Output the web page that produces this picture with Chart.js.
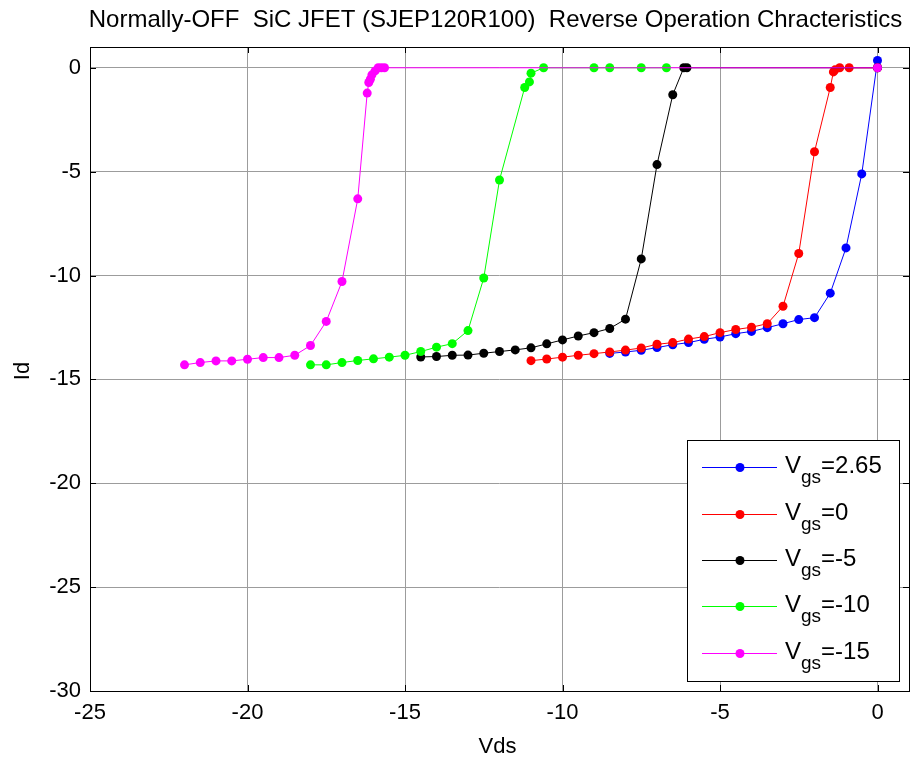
<!DOCTYPE html>
<html>
<head>
<meta charset="utf-8">
<script src="https://cdn.jsdelivr.net/npm/chart.js@4"></script>
<style>
  html, body { margin: 0; padding: 0; background: #ffffff; }
  #wrap { width: 917px; height: 762px; position: relative; }
</style>
</head>
<body>
<div id="wrap"><canvas id="c" width="917" height="762"></canvas></div>
<script>
// Reverse-conduction sweeps of the SJEP120R100, one per gate bias
const gateLabels = ["2.65", "0", "-5", "-10", "-15"];
const seriesColors = ["#0000ff", "#ff0000", "#000000", "#00ff00", "#ff00ff"];

const vdsA = [-8.5, -8, -7.5, -7, -6.5, -6, -5.5, -5, -4.5, -4, -3.5, -3, -2.5, -2, -1.5, -1, -0.5, 0];
const idA  = [-13.75, -13.68, -13.6, -13.47, -13.33, -13.23, -13.07, -12.96, -12.8, -12.69, -12.51, -12.32, -12.12, -12.03, -10.85, -8.67, -5.11, 0.35];

const vdsB = [-11, -10.5, -10, -9.5, -9, -8.5, -8, -7.5, -7, -6.5, -6, -5.5, -5, -4.5, -4, -3.5, -3, -2.5, -2, -1.5, -1.4, -1.35, -1.2, -0.9, 0];
const idB  = [-14.1, -14.02, -13.93, -13.84, -13.76, -13.68, -13.59, -13.49, -13.31, -13.23, -13.06, -12.94, -12.75, -12.6, -12.49, -12.32, -11.48, -8.94, -4.04, -0.95, -0.2, -0.1, 0, 0, 0];

const vdsC = [-14.5, -14, -13.5, -13, -12.5, -12, -11.5, -11, -10.5, -10, -9.5, -9, -8.5, -8, -7.5, -7, -6.5, -6.15, -6.05, 0];
const idC  = [-13.92, -13.9, -13.84, -13.83, -13.74, -13.66, -13.58, -13.48, -13.29, -13.1, -12.91, -12.75, -12.55, -12.1, -9.2, -4.66, -1.3, 0, 0, 0];

const vdsD = [-18, -17.5, -17, -16.5, -16, -15.5, -15, -14.5, -14, -13.5, -13, -12.5, -12, -11.2, -11.05, -11, -10.6, -9, -8.5, -7.5, -6.7];
const idD  = [-14.3, -14.3, -14.19, -14.09, -14.01, -13.93, -13.84, -13.66, -13.45, -13.28, -12.65, -10.12, -5.4, -0.95, -0.68, -0.26, 0, 0, 0, 0, 0];

const vdsE = [-22, -21.5, -21, -20.5, -20, -19.5, -19, -18.5, -18, -17.5, -17, -16.5, -16.2, -16.15, -16.1, -16.05, -15.95, -15.85, -15.75, -15.65, 0];
const idE  = [-14.3, -14.19, -14.11, -14.11, -14.03, -13.95, -13.95, -13.84, -13.37, -12.21, -10.29, -6.31, -1.22, -0.71, -0.55, -0.34, -0.15, 0, 0, 0, 0];

const xTicks = [-25, -20, -15, -10, -5, 0];
const yTicks = [-30, -25, -20, -15, -10, -5, 0];

const titleText = "Normally-OFF  SiC JFET (SJEP120R100)  Reverse Operation Chracteristics";
const xTitle = "Vds";
const yTitle = "Id";

const FONT = "'Liberation Sans', Arial, Helvetica, sans-serif";

const xs = [vdsA, vdsB, vdsC, vdsD, vdsE];
const ys = [idA, idB, idC, idD, idE];

const datasets = xs.map((xv, i) => ({
  label: "Vgs=" + gateLabels[i],
  data: xv.map((x, k) => ({ x: x, y: ys[i][k] })),
  borderColor: seriesColors[i],
  backgroundColor: seriesColors[i],
  pointBackgroundColor: seriesColors[i],
  pointBorderColor: seriesColors[i],
  borderWidth: 1,
  pointRadius: 4.5,
  pointBorderWidth: 0,
  pointHoverRadius: 4.5,
  tension: 0,
  fill: false,
  // later curves sit on top of earlier ones
  order: xs.length - 1 - i
}));

// Box, inward tick marks, title, axis titles and the legend
const decorations = {
  id: "decorations",
  afterDraw(chart) {
    const ctx = chart.ctx;
    const a = chart.chartArea;
    const sx = chart.scales.x, sy = chart.scales.y;
    ctx.save();

    // frame
    ctx.strokeStyle = "#000000";
    ctx.lineWidth = 1;
    ctx.strokeRect(Math.round(a.left) + 0.5, Math.round(a.top) + 0.5,
                   Math.round(a.right - a.left), Math.round(a.bottom - a.top));

    // inward ticks on all four sides
    const tl = 6;
    ctx.beginPath();
    xTicks.forEach(v => {
      const p = Math.round(sx.getPixelForValue(v)) + 0.5;
      ctx.moveTo(p, a.bottom); ctx.lineTo(p, a.bottom - tl);
      ctx.moveTo(p, a.top); ctx.lineTo(p, a.top + tl);
    });
    yTicks.forEach(v => {
      const p = Math.round(sy.getPixelForValue(v)) + 0.5;
      ctx.moveTo(a.left, p); ctx.lineTo(a.left + tl, p);
      ctx.moveTo(a.right, p); ctx.lineTo(a.right - tl, p);
    });
    ctx.stroke();

    // title
    ctx.fillStyle = "#000000";
    ctx.font = "24px " + FONT;
    ctx.textAlign = "center";
    ctx.textBaseline = "alphabetic";
    ctx.fillText(titleText, (a.left + a.right) / 2 - 4, 27);

    // axis titles
    ctx.font = "22px " + FONT;
    ctx.fillText(xTitle, (a.left + a.right) / 2 - 2, 753);
    ctx.save();
    ctx.translate(29, (a.top + a.bottom) / 2 + 2);
    ctx.rotate(-Math.PI / 2);
    ctx.fillText(yTitle, 0, 0);
    ctx.restore();

    // legend
    const bx = 687, by = 440, bw = 212, bh = 241;
    ctx.fillStyle = "#ffffff";
    ctx.fillRect(bx, by, bw, bh);
    ctx.strokeStyle = "#000000";
    ctx.strokeRect(bx + 0.5, by + 0.5, bw, bh);
    const rowY = [467, 514, 560, 606, 653];
    gateLabels.forEach((g, i) => {
      const y = rowY[i];
      ctx.strokeStyle = seriesColors[i];
      ctx.lineWidth = 1;
      ctx.beginPath();
      ctx.moveTo(702, y + 0.5); ctx.lineTo(777, y + 0.5);
      ctx.stroke();
      ctx.fillStyle = seriesColors[i];
      ctx.beginPath();
      ctx.arc(740, y + 0.5, 4.5, 0, Math.PI * 2);
      ctx.fill();

      ctx.fillStyle = "#000000";
      ctx.textAlign = "left";
      ctx.textBaseline = "alphabetic";
      let x = 785;
      ctx.font = "24px " + FONT;
      ctx.fillText("V", x, y + 6);
      x += ctx.measureText("V").width;
      ctx.font = "19px " + FONT;
      ctx.fillText("gs", x, y + 16);
      x += ctx.measureText("gs").width;
      ctx.font = "24px " + FONT;
      ctx.fillText("=" + g, x, y + 6);
    });

    ctx.restore();
  }
};

new Chart(document.getElementById("c"), {
  type: "line",
  data: { datasets: datasets },
  options: {
    responsive: false,
    animation: false,
    parsing: true,
    layout: { padding: { top: 47, right: 8, left: 0, bottom: 0 } },
    plugins: {
      legend: { display: false },
      title: { display: false },
      tooltip: { enabled: false }
    },
    scales: {
      x: {
        type: "linear",
        min: -25,
        max: 1,
        afterFit(s) { s.height = 71; },
        afterBuildTicks(s) { s.ticks = xTicks.map(v => ({ value: v })); },
        grid: { color: "#9c9c9c", lineWidth: 1, drawTicks: false },
        border: { display: false },
        ticks: {
          padding: 9,
          color: "#000000",
          font: { family: FONT, size: 22 },
          maxRotation: 0,
          autoSkip: false
        }
      },
      y: {
        type: "linear",
        min: -30,
        max: 1,
        afterFit(s) { s.width = 90; },
        afterBuildTicks(s) { s.ticks = yTicks.map(v => ({ value: v })); },
        grid: { color: "#9c9c9c", lineWidth: 1, drawTicks: false },
        border: { display: false },
        ticks: {
          padding: 9,
          color: "#000000",
          font: { family: FONT, size: 22 },
          autoSkip: false
        }
      }
    }
  },
  plugins: [decorations]
});
</script>
</body>
</html>
